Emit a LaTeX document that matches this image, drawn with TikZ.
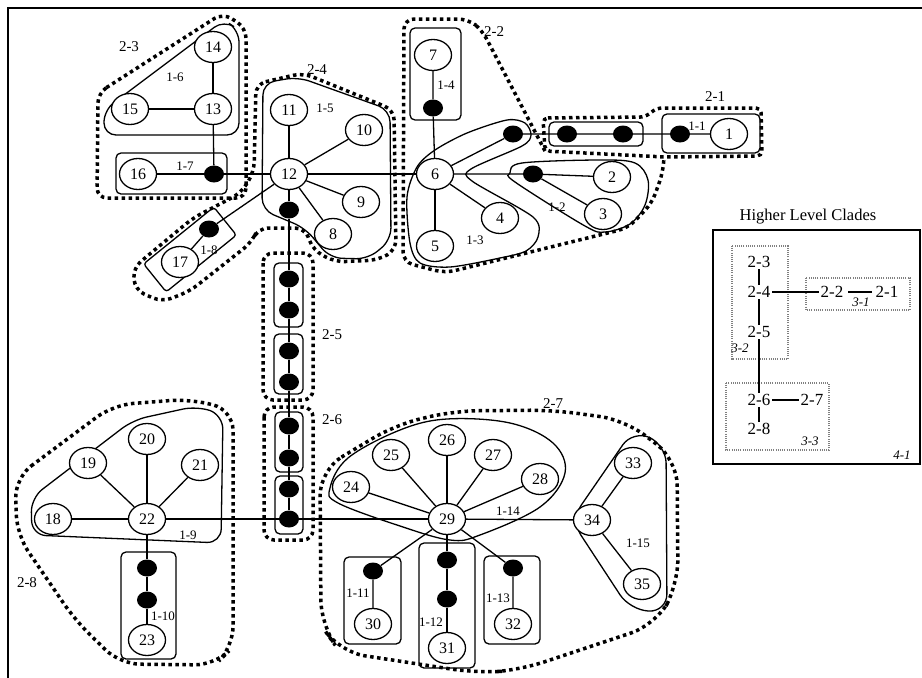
\documentclass[tikz,border=0pt]{standalone}
\usepackage{fontspec}
\setmainfont{Liberation Serif}
\usetikzlibrary{shapes.geometric}
\begin{document}
\begin{tikzpicture}[x=1pt,y=-1pt,
  hap/.style={ellipse,draw,line width=1.3pt,fill=white,minimum width=37pt,minimum height=31pt,inner sep=0pt,font=\fontsize{16}{16}\selectfont},
  bdot/.style={ellipse,fill=black,minimum width=20pt,minimum height=17pt,inner sep=0pt},
  edge/.style={line width=1.3pt},
  solidreg/.style={line width=1.3pt,rounded corners=8pt},
  boxreg/.style={line width=1.3pt,rounded corners=5pt},
  dotreg/.style={line width=3.5pt,dash pattern=on 3.5pt off 3.5pt,rounded corners=10pt},
  lab/.style={font=\fontsize{13}{13}\selectfont,inner sep=0pt},
  labb/.style={font=\fontsize{15}{15}\selectfont,inner sep=0pt},
  hlab/.style={font=\fontsize{17}{17}\selectfont,inner sep=1.5pt},
  ilab/.style={font=\itshape\fontsize{13}{13}\selectfont,inner sep=0pt},
  fdot/.style={line width=1.6pt,gray,dash pattern=on 1pt off 1.2pt}
]
\useasboundingbox (0,0) rectangle (922,678);
% frame
\draw[line width=2pt] (8,678) -- (8,8) -- (922,8);

% ---------- dotted (2-step) clades ----------
% 2-1
\draw[dotreg,rounded corners=5pt] (543,118) -- (645,117) -- (657,108) -- (761,108) -- (762,156) -- (665,157) -- (545,151) -- cycle;
% 2-2
\draw[dotreg] (545,151) -- (482,30) -- (468,19) -- (404,19) -- (403,262) -- (445,273) -- (628,228) -- (652,203) -- (663,172) -- (664,157);
% 2-3
\draw[dotreg] (98,93) -- (223,13) -- (246,28) -- (246,198) -- (97,198) -- cycle;
% 2-4
\draw[dotreg] (256,84) -- (303,73) -- (394,110) -- (396,250) -- (378,260) -- (335,262) -- (313,250) -- (305,228) -- (258,228) -- (252,242) -- (190,291) -- (162,302) -- (135,290) -- (133,268) -- (193,218) -- (241,193) -- (254,172) -- cycle;
% 2-5
\draw[dotreg] (263,253) rectangle (313,400);
% 2-6
\draw[dotreg] (264,407) rectangle (313,540);
% 2-7
\draw[dotreg,rounded corners=25pt] (320,470) -- (395,425) -- (453,411) -- (553,410) -- (625,420) -- (677,460) -- (678,585) -- (655,625) -- (520,670) -- (477,673) -- (340,652) -- (321,625) -- cycle;
% 2-8
\draw[dotreg,rounded corners=20pt] (15,478) -- (113,405) -- (190,399) -- (233,410) -- (233,647) -- (215,665) -- (120,664) -- (75,620) -- (17,535) -- cycle;

% ---------- solid (1-step) clades ----------
% 1-2
\draw[line width=1.3pt] plot[smooth cycle,tension=0.55] coordinates {(510,173) (522,163) (600,160) (635,163) (648,180) (645,205) (630,224) (605,232) (585,226) (515,182)};
% 1-3
\draw[line width=1.3pt] plot[smooth cycle,tension=0.5] coordinates {(507,120) (525,123) (531,135) (522,146) (471,169) (472,181) (533,217) (538,237) (526,251) (500,258) (450,267) (420,263) (410,243) (407,197) (417,167) (435,150) (467,133)};
% 1-5
\draw[solidreg,rounded corners=12pt] (263,83) -- (298,77) -- (390,110) -- (391,240) -- (368,259) -- (330,258) -- (305,228) -- (262,210) -- cycle;
% 1-6
\draw[solidreg,rounded corners=12pt] (104,110) -- (224,20) -- (239,30) -- (239,135) -- (104,135) -- cycle;
% 1-9
\draw[solidreg,rounded corners=14pt] (31,498) -- (133,420) -- (197,406) -- (223,415) -- (221,543) -- (32,535) -- cycle;
% 1-14
\draw[line width=1.3pt] plot[smooth cycle,tension=0.6] coordinates {(330,488) (348,458) (400,430) (447,419) (510,423) (553,443) (565,473) (540,507) (480,535) (450,540) (400,526) (338,503)};
% 1-15
\draw[solidreg,rounded corners=18pt] (571,520) -- (633,430) -- (666,445) -- (667,612) -- (630,610) -- cycle;

% boxes
\draw[boxreg] (116,153) rectangle (227,194);  % 1-7
\draw[boxreg] (410,28) rectangle (461,120);   % 1-4
\draw[boxreg] (549,122) rectangle (643,146);  % middle
\draw[boxreg] (662,114) rectangle (760,153);  % 1-1
\draw[boxreg,rounded corners=3pt] (213.8,207.1) -- (236.4,235.1) -- (166.2,291.9) -- (143.6,263.9) -- cycle; % 1-8
\draw[boxreg] (274,263) rectangle (303,327);
\draw[boxreg] (274,334) rectangle (303,394);
\draw[boxreg] (275,412) rectangle (303,472);
\draw[boxreg] (275,476) rectangle (303,534);
\draw[boxreg] (121,552) rectangle (176,659);  % 1-10
\draw[boxreg] (344,557) rectangle (401,644);  % 1-11
\draw[boxreg] (419,543) rectangle (475,668);  % 1-12
\draw[boxreg] (484,556) rectangle (540,644);  % 1-13

% ---------- haplotypes ----------
\node[hap] (n1) at (729,134) {1};
\node[hap] (n2) at (612,177) {2};
\node[hap] (n3) at (603,214) {3};
\node[hap] (n4) at (500,218) {4};
\node[hap] (n5) at (435,246) {5};
\node[hap] (n6) at (435,174) {6};
\node[hap] (n7) at (433,55) {7};
\node[hap] (n8) at (333,234) {8};
\node[hap] (n9) at (361,202) {9};
\node[hap] (n10) at (364,130) {10};
\node[hap] (n11) at (289,110) {11};
\node[hap] (n12) at (289,174) {12};
\node[hap] (n13) at (213,109) {13};
\node[hap] (n14) at (213,47) {14};
\node[hap] (n15) at (130,109) {15};
\node[hap] (n16) at (138,174) {16};
\node[hap] (n17) at (180,262) {17};
\node[hap] (n18) at (53,519) {18};
\node[hap] (n19) at (88,463) {19};
\node[hap] (n20) at (147,439) {20};
\node[hap] (n21) at (200,465) {21};
\node[hap] (n22) at (147,519) {22};
\node[hap] (n23) at (147,640) {23};
\node[hap] (n24) at (351,487) {24};
\node[hap] (n25) at (391,455) {25};
\node[hap] (n26) at (447,440) {26};
\node[hap] (n27) at (493,455) {27};
\node[hap] (n28) at (540,479) {28};
\node[hap] (n29) at (447,519) {29};
\node[hap] (n30) at (373,624) {30};
\node[hap] (n31) at (447,648) {31};
\node[hap] (n32) at (513,624) {32};
\node[hap] (n33) at (633,463) {33};
\node[hap] (n34) at (592,520) {34};
\node[hap] (n35) at (642,584) {35};

% missing (black) haplotypes
\node[bdot] (a11) at (680,134) {};
\node[bdot] (am1) at (567,134) {};
\node[bdot] (am2) at (623,134) {};
\node[bdot] (a13) at (513,134) {};
\node[bdot] (a12) at (533,174) {};
\node[bdot] (a14) at (433,108) {};
\node[bdot] (a17) at (214,174) {};
\node[bdot] (a18) at (209,229) {};
\node[bdot] (v0) at (289,210) {};
\node[bdot] (v1) at (289,279) {};
\node[bdot] (v2) at (289,310) {};
\node[bdot] (v3) at (289,351) {};
\node[bdot] (v4) at (289,382) {};
\node[bdot] (v5) at (289,426) {};
\node[bdot] (v6) at (289,458) {};
\node[bdot] (v7) at (289,489) {};
\node[bdot] (v8) at (289,519) {};
\node[bdot] (b1) at (147,568) {};
\node[bdot] (b2) at (147,600) {};
\node[bdot] (c11) at (373,571) {};
\node[bdot] (c12a) at (447,560) {};
\node[bdot] (c12b) at (447,599) {};
\node[bdot] (c13) at (513,568) {};

% ---------- connectors ----------
\draw[edge] (n6) -- (a13) -- (am1) -- (am2) -- (a11) -- (n1);
\draw[edge] (n6) -- (a12) -- (n2);
\draw[edge] (a12) -- (n3);
\draw[edge] (n6) -- (n4);
\draw[edge] (n6) -- (n5);
\draw[edge] (n6) -- (a14) -- (n7);
\draw[edge] (n12) -- (n6);
\draw[edge] (n12) -- (n11);
\draw[edge] (n12) -- (n10);
\draw[edge] (n12) -- (n9);
\draw[edge] (n12) -- (n8);
\draw[edge] (n12) -- (a17) -- (n16);
\draw[edge] (a17) -- (n13);
\draw[edge] (n13) -- (n14);
\draw[edge] (n13) -- (n15);
\draw[edge] (n12) -- (a18) -- (n17);
\draw[edge] (n12) -- (v0) -- (v1) -- (v2) -- (v3) -- (v4) -- (v5) -- (v6) -- (v7) -- (v8);
\draw[edge] (n22) -- (v8) -- (n29);
\draw[edge] (n29) -- (n34);
\draw[edge] (n22) -- (n18);
\draw[edge] (n22) -- (n19);
\draw[edge] (n22) -- (n20);
\draw[edge] (n22) -- (n21);
\draw[edge] (n22) -- (b1) -- (b2) -- (n23);
\draw[edge] (n29) -- (n24);
\draw[edge] (n29) -- (n25);
\draw[edge] (n29) -- (n26);
\draw[edge] (n29) -- (n27);
\draw[edge] (n29) -- (n28);
\draw[edge] (n29) -- (c11) -- (n30);
\draw[edge] (n29) -- (c12a) -- (c12b) -- (n31);
\draw[edge] (n29) -- (c13) -- (n32);
\draw[edge] (n34) -- (n33);
\draw[edge] (n34) -- (n35);

% ---------- clade labels ----------
\node[labb] (l21) at (715,97) {2-1};
\node[labb] (l22) at (494,32) {2-2};
\node[labb] (l23) at (129,47) {2-3};
\node[labb] (l24) at (317,70) {2-4};
\node[labb] (l25) at (332,335) {2-5};
\node[labb] (l26) at (332,420) {2-6};
\node[labb] (l27) at (553,404) {2-7};
\node[labb] (l28) at (27,583) {2-8};
\node[lab] (l11) at (697,126) {1-1};
\node[lab] (l12) at (557,207) {1-2};
\node[lab] (l13) at (475,240) {1-3};
\node[lab] (l14) at (446,85) {1-4};
\node[lab] (l15) at (325,108) {1-5};
\node[lab] (l16) at (175,77) {1-6};
\node[lab] (l17) at (185,166) {1-7};
\node[lab] (l18) at (209,250) {1-8};
\node[lab] (l19) at (188,535) {1-9};
\node[lab] (l110) at (163,616) {1-10};
\node[lab] (l111) at (358,593) {1-11};
\node[lab] (l112) at (431,622) {1-12};
\node[lab] (l113) at (498,598) {1-13};
\node[lab] (l114) at (508,511) {1-14};
\node[lab] (l115) at (638,543) {1-15};

% ---------- higher level clades ----------
\node[font=\fontsize{16.5}{16.5}\selectfont] (htitle) at (808,217) {Higher Level Clades};
\draw[line width=1.6pt] (713,230) rectangle (920,464);
\draw[fdot] (732,246) rectangle (788,359);
\draw[fdot] (806,278) rectangle (910,310);
\draw[fdot] (726,383) rectangle (829,450);
\node[hlab] (h23) at (759,262) {2-3};
\node[hlab] (h24) at (759,292) {2-4};
\node[hlab] (h25) at (759,332) {2-5};
\node[hlab] (h22) at (832,292) {2-2};
\node[hlab] (h21) at (887,292) {2-1};
\node[hlab] (h26) at (759,400) {2-6};
\node[hlab] (h27) at (812,400) {2-7};
\node[hlab] (h28) at (759,429) {2-8};
\node[ilab] (i31) at (861,302) {3-1};
\node[ilab] (i32) at (740,348) {3-2};
\node[ilab] (i33) at (810,441) {3-3};
\node[ilab] (i41) at (902,455) {4-1};
\draw[edge] (h23) -- (h24);
\draw[edge] (h24) -- (h25);
\draw[edge] (h25) -- (h26);
\draw[edge] (h26) -- (h28);
\draw[edge] (h24) -- (h22);
\draw[edge,shorten <=3pt,shorten >=2pt] (h22) -- (h21);
\draw[edge] (h26) -- (h27);
\end{tikzpicture}
\end{document}
